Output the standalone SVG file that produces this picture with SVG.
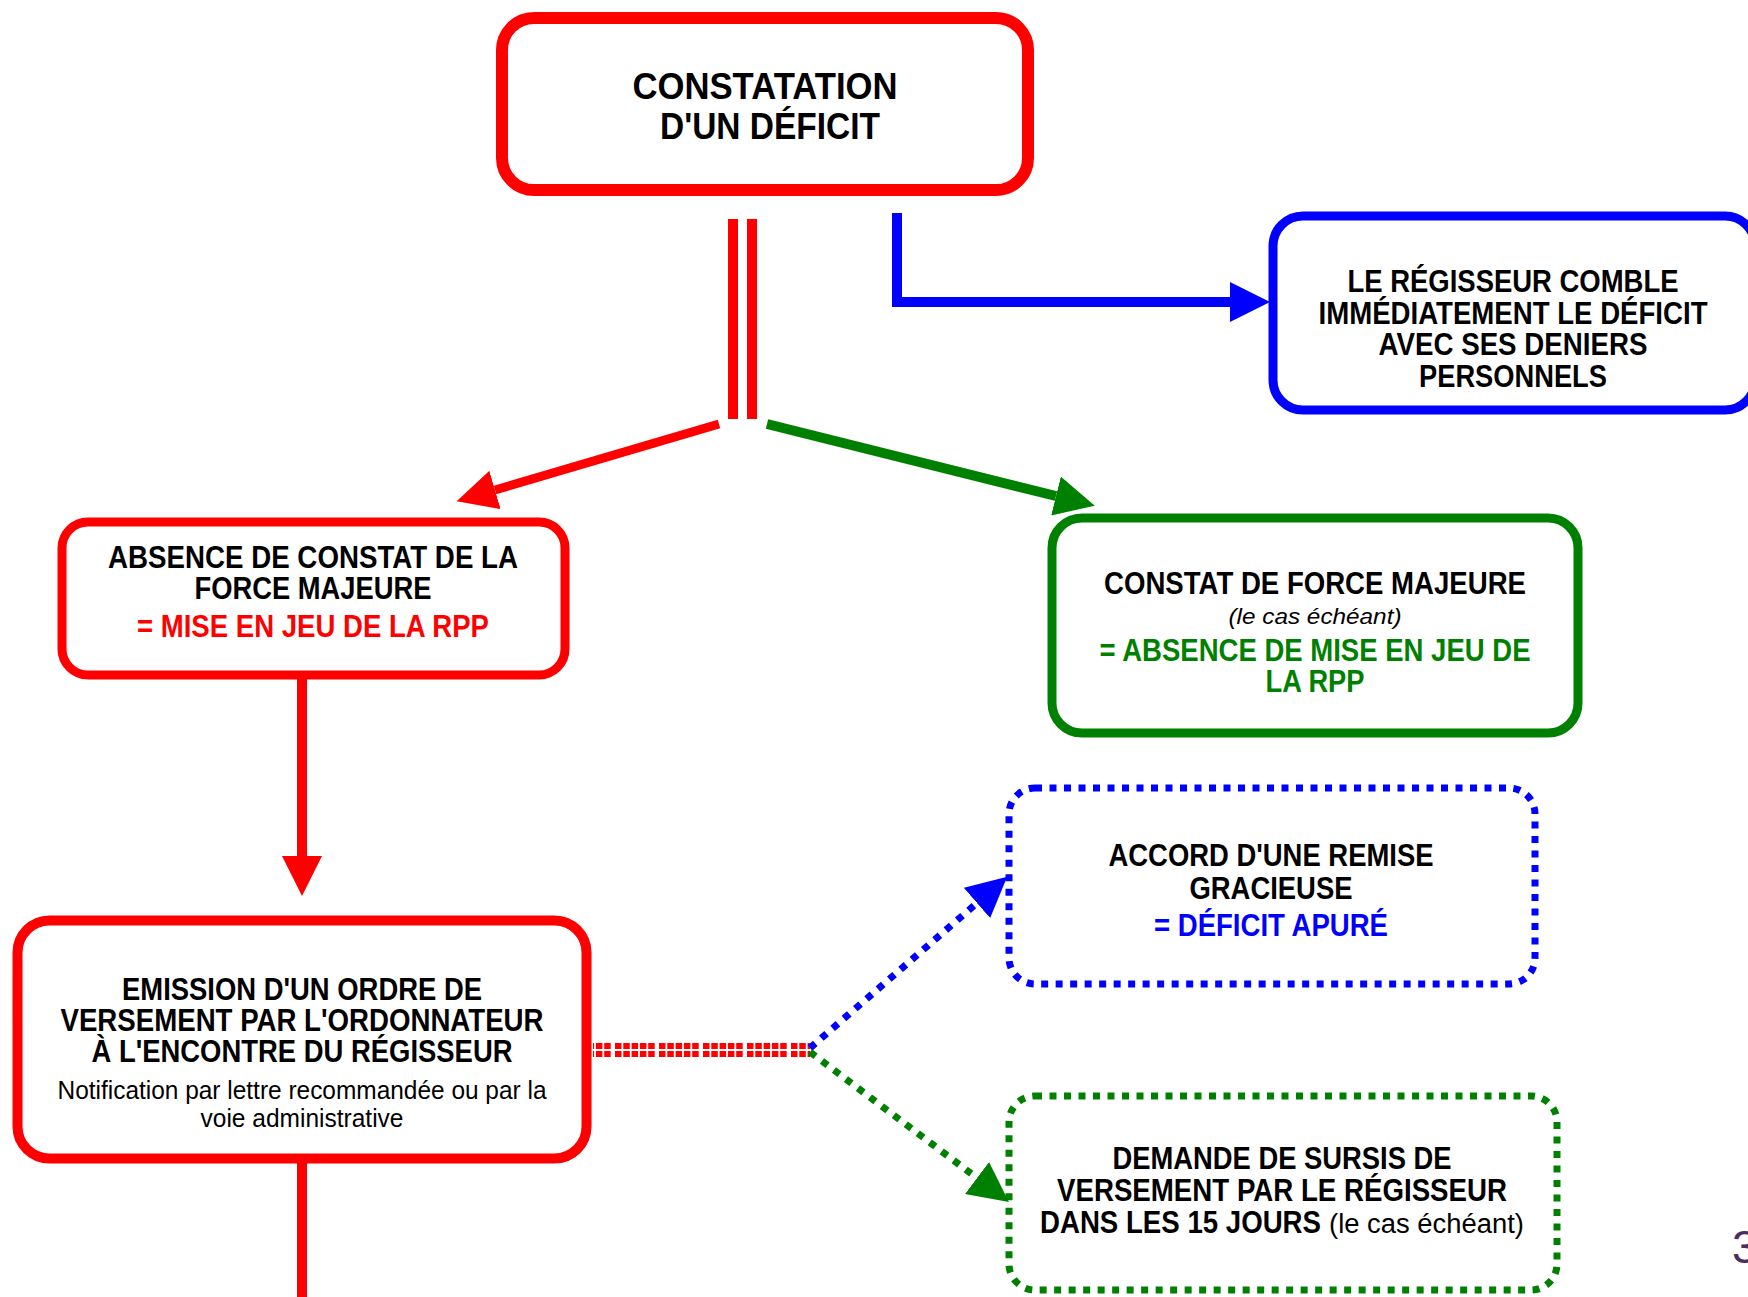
<svg xmlns="http://www.w3.org/2000/svg" width="1748" height="1297" viewBox="0 0 1748 1297">
<defs>
<style>
.t{font-family:"Liberation Sans",Arial,Helvetica,sans-serif;font-weight:bold;font-size:31px;text-anchor:middle;fill:#000}
.big{font-size:36px}
.reg{font-weight:normal;font-size:25px}
.ita{font-weight:normal;font-style:italic;font-size:22.5px}
.red{fill:#ff0000}
.grn{fill:#008000}
.blu{fill:#0000ff}
.box{fill:#fff}
.sr{stroke:#ff0000}
.sb{stroke:#0000ff}
.sg{stroke:#008000}
.dot{stroke-width:7;stroke-dasharray:7 7.5;fill:#fff}
.conn{fill:none}
</style>
<marker id="ahR" viewBox="0 0 40 40" markerWidth="40" markerHeight="40" markerUnits="userSpaceOnUse" refX="0" refY="20" orient="auto"><path d="M0,0 L40,20 L0,40 z" fill="#ff0000"/></marker>
<marker id="ahB" viewBox="0 0 40 40" markerWidth="40" markerHeight="40" markerUnits="userSpaceOnUse" refX="0" refY="20" orient="auto"><path d="M0,0 L40,20 L0,40 z" fill="#0000ff"/></marker>
<marker id="ahG" viewBox="0 0 40 40" markerWidth="40" markerHeight="40" markerUnits="userSpaceOnUse" refX="0" refY="20" orient="auto"><path d="M0,0 L40,20 L0,40 z" fill="#008000"/></marker>
</defs>
<rect width="1748" height="1297" fill="#fff"/>

<g id="connectors" class="conn">
  <line x1="733" y1="219" x2="733" y2="419" stroke="#ff0000" stroke-width="10"/>
  <line x1="752" y1="219" x2="752" y2="419" stroke="#ff0000" stroke-width="10"/>
  <path d="M897,213 V302 H1230" stroke="#0000ff" stroke-width="10" fill="none" marker-end="url(#ahB)"/>
  <path d="M719,424 L495,490" stroke="#ff0000" stroke-width="9" fill="none" marker-end="url(#ahR)"/>
  <path d="M767,424 L1056,496" stroke="#008000" stroke-width="10" fill="none" marker-end="url(#ahG)"/>
  <path d="M302,678 V856" stroke="#ff0000" stroke-width="10" fill="none" marker-end="url(#ahR)"/>
  <path d="M302,1161 V1297" stroke="#ff0000" stroke-width="10" fill="none"/>
  <line x1="593" y1="1046" x2="810" y2="1046" stroke="#ff0000" stroke-width="6" stroke-dasharray="6.5 1.8 6.5 1.8 6.5 1.8 6.5 1.8 6.5 4.3" stroke-dashoffset="22"/>
  <line x1="593" y1="1054" x2="810" y2="1054" stroke="#ff0000" stroke-width="6" stroke-dasharray="6.5 1.8 6.5 1.8 6.5 1.8 6.5 1.8 6.5 4.3" stroke-dashoffset="22"/>
  <path d="M810,1048 L977,903" stroke="#0000ff" stroke-width="7" stroke-dasharray="7 8" fill="none" marker-end="url(#ahB)"/>
  <path d="M810,1052 L977,1178" stroke="#008000" stroke-width="7" stroke-dasharray="7 8" fill="none" marker-end="url(#ahG)"/>
</g>

<g id="node-constatation">
  <rect class="box sr" x="502" y="18" width="526" height="172" rx="32" stroke-width="12"/>
  <text class="t big" x="765" y="99" textLength="265" lengthAdjust="spacingAndGlyphs">CONSTATATION</text>
  <text class="t big" x="770" y="139" textLength="220" lengthAdjust="spacingAndGlyphs">D'UN DÉFICIT</text>
</g>

<g id="node-regisseur-comble">
  <rect class="box sb" x="1273" y="216" width="482" height="194" rx="30" stroke-width="9"/>
  <text class="t" x="1513" y="292" textLength="331" lengthAdjust="spacingAndGlyphs">LE RÉGISSEUR COMBLE</text>
  <text class="t" x="1513" y="324" textLength="389" lengthAdjust="spacingAndGlyphs">IMMÉDIATEMENT LE DÉFICIT</text>
  <text class="t" x="1513" y="355" textLength="269" lengthAdjust="spacingAndGlyphs">AVEC SES DENIERS</text>
  <text class="t" x="1513" y="387" textLength="188" lengthAdjust="spacingAndGlyphs">PERSONNELS</text>
</g>

<g id="node-absence-constat">
  <rect class="box sr" x="62" y="522" width="503" height="153" rx="26" stroke-width="9"/>
  <text class="t" x="313" y="567.5" textLength="410" lengthAdjust="spacingAndGlyphs">ABSENCE DE CONSTAT DE LA</text>
  <text class="t" x="313" y="598.5" textLength="237" lengthAdjust="spacingAndGlyphs">FORCE MAJEURE</text>
  <text class="t red" x="313" y="636.5" textLength="352" lengthAdjust="spacingAndGlyphs">= MISE EN JEU DE LA RPP</text>
</g>

<g id="node-force-majeure">
  <rect class="box sg" x="1052" y="518" width="526" height="215" rx="30" stroke-width="9"/>
  <text class="t" x="1315" y="594" textLength="422" lengthAdjust="spacingAndGlyphs">CONSTAT DE FORCE MAJEURE</text>
  <text class="t ita" x="1315" y="624" textLength="173" lengthAdjust="spacingAndGlyphs">(le cas échéant)</text>
  <text class="t grn" x="1315" y="661" textLength="431" lengthAdjust="spacingAndGlyphs">= ABSENCE DE MISE EN JEU DE</text>
  <text class="t grn" x="1315" y="692" textLength="99" lengthAdjust="spacingAndGlyphs">LA RPP</text>
</g>

<g id="node-remise-gracieuse">
  <rect class="sb dot" x="1009" y="788" width="526" height="196" rx="26"/>
  <text class="t" x="1271" y="866" textLength="325" lengthAdjust="spacingAndGlyphs">ACCORD D'UNE REMISE</text>
  <text class="t" x="1271" y="898.5" textLength="163" lengthAdjust="spacingAndGlyphs">GRACIEUSE</text>
  <text class="t blu" x="1271" y="936" textLength="234" lengthAdjust="spacingAndGlyphs">= DÉFICIT APURÉ</text>
</g>

<g id="node-ordre-versement">
  <rect class="box sr" x="17.5" y="920.5" width="569" height="238" rx="32" stroke-width="10"/>
  <text class="t" x="302" y="1000" textLength="360" lengthAdjust="spacingAndGlyphs">EMISSION D'UN ORDRE DE</text>
  <text class="t" x="302" y="1031" textLength="483" lengthAdjust="spacingAndGlyphs">VERSEMENT PAR L'ORDONNATEUR</text>
  <text class="t" x="302" y="1062" textLength="421" lengthAdjust="spacingAndGlyphs">À L'ENCONTRE DU RÉGISSEUR</text>
  <text class="t reg" x="302" y="1099" textLength="489" lengthAdjust="spacingAndGlyphs">Notification par lettre recommandée ou par la</text>
  <text class="t reg" x="302" y="1127" textLength="203" lengthAdjust="spacingAndGlyphs">voie administrative</text>
</g>

<g id="node-sursis">
  <rect class="sg dot" x="1009" y="1096" width="548" height="194" rx="26"/>
  <text class="t" x="1282" y="1169" textLength="339" lengthAdjust="spacingAndGlyphs">DEMANDE DE SURSIS DE</text>
  <text class="t" x="1282" y="1200.5" textLength="450" lengthAdjust="spacingAndGlyphs">VERSEMENT PAR LE RÉGISSEUR</text>
  <text class="t" x="1040" y="1233" style="text-anchor:start" textLength="281" lengthAdjust="spacingAndGlyphs">DANS LES 15 JOURS</text>
  <text class="t" x="1329" y="1233" style="text-anchor:start;font-weight:normal;font-size:27px" textLength="195" lengthAdjust="spacingAndGlyphs">(le cas échéant)</text>
</g>

<text x="1732" y="1263" style="font-family:'Liberation Sans',Arial,sans-serif;font-size:46px;fill:#4b2e5e">3</text>
</svg>
